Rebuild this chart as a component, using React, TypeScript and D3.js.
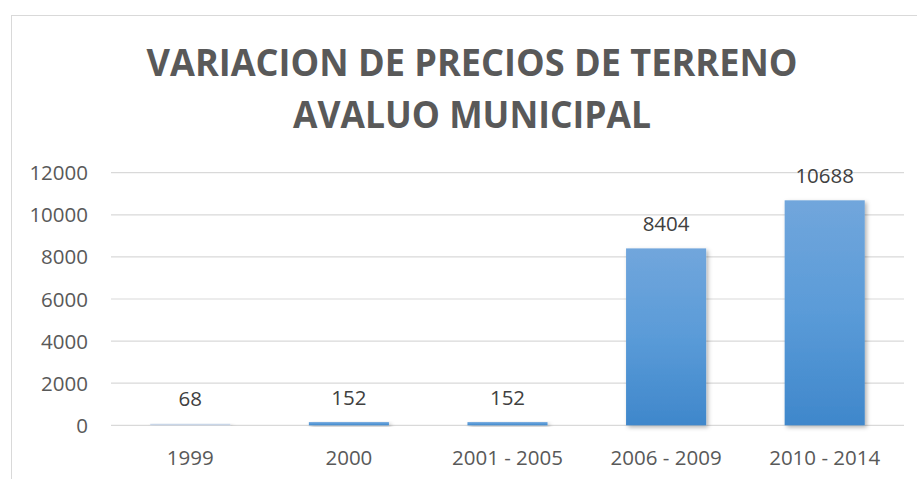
import React from "react";
import * as d3 from "d3";

const categories = ["1999", "2000", "2001 - 2005", "2006 - 2009", "2010 - 2014"];
const values = [68, 152, 152, 8404, 10688];
const yTicks = [0, 2000, 4000, 6000, 8000, 10000, 12000];
const titleLines = ["VARIACION DE PRECIOS DE TERRENO", "AVALUO MUNICIPAL"];

const W = 917;
const H = 479;
const plotLeft = 111;
const plotRight = 904;
const plotTop = 172.7;
const plotBottom = 425.3;

export default function App() {
  const x = d3
    .scaleBand<string>()
    .domain(categories)
    .range([plotLeft, plotRight])
    .paddingInner(0.495)
    .paddingOuter(0.2475);
  const y = d3.scaleLinear().domain([0, 12000]).range([plotBottom, plotTop]);
  const font = "'Open Sans', sans-serif";

  return (
    <div style={{ position: "fixed", left: 0, top: 0, width: W, height: H, background: "#fff" }}>
      <svg width={W} height={H} style={{ display: "block" }}>
        <defs>
          <linearGradient id="barGrad" x1="0" y1="0" x2="0" y2="1">
            <stop offset="0%" stopColor="#71a6dc" />
            <stop offset="50%" stopColor="#5a9bd8" />
            <stop offset="100%" stopColor="#3f87cb" />
          </linearGradient>
          <filter id="shadow" x="-20%" y="-20%" width="150%" height="150%">
            <feDropShadow dx="2" dy="2" stdDeviation="2" floodColor="#000" floodOpacity="0.3" />
          </filter>
        </defs>
        <rect x={0} y={0} width={W} height={H} fill="#fff" />
        <rect x={11.5} y={15.5} width={1000} height={1000} fill="none" stroke="#d9d9d9" strokeWidth={1} />
        {titleLines.map((t, i) => (
          <text
            key={t}
            x={472}
            y={i === 0 ? 76 : 128}
            textAnchor="middle"
            fontFamily={font}
            fontWeight={700}
            fontSize={38}
            fill="#595959"
            textLength={i === 0 ? 651 : 358}
            lengthAdjust="spacingAndGlyphs"
          >
            {t}
          </text>
        ))}
        {yTicks.map((t) => (
          <g key={t}>
            <line x1={plotLeft} x2={plotRight} y1={y(t)} y2={y(t)} stroke="#d9d9d9" strokeWidth={1.2} />
            <text x={88} y={y(t) + 7.5} textAnchor="end" fontFamily={font} fontSize={20.5} fill="#595959">
              {t}
            </text>
          </g>
        ))}
        {categories.map((c, i) => {
          const bx = x(c)!;
          const by = y(values[i]);
          const h = Math.max(plotBottom - by, 1.5);
          return (
            <g key={c}>
              <rect
                x={bx}
                y={plotBottom - h}
                width={x.bandwidth()}
                height={h}
                fill={i === 0 ? "#c9d6e8" : "url(#barGrad)"}
                filter="url(#shadow)"
              />
              <text
                x={bx + x.bandwidth() / 2}
                y={by - 17.5}
                textAnchor="middle"
                fontFamily={font}
                fontSize={20.5}
                fill="#404040"
              >
                {values[i]}
              </text>
              <text
                x={bx + x.bandwidth() / 2}
                y={465}
                textAnchor="middle"
                fontFamily={font}
                fontSize={20.5}
                fill="#595959"
              >
                {c}
              </text>
            </g>
          );
        })}
      </svg>
    </div>
  );
}
